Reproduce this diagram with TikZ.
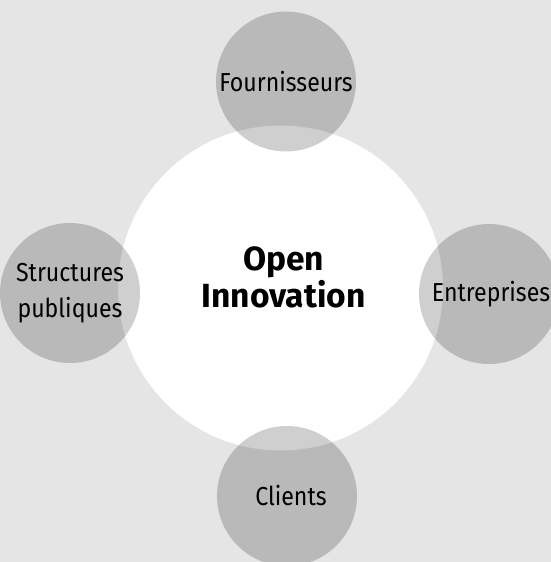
\documentclass[tikz,border=0pt]{standalone}
\usepackage{fontspec}
\setmainfont{Fira Sans}
\newfontfamily\labfont[FakeStretch=0.89]{Fira Sans}
\newfontfamily\titfont[FakeStretch=1.0]{Fira Sans}
\definecolor{bggray}{HTML}{E5E5E5}
\begin{document}
\begin{tikzpicture}[x=1pt,y=-1pt,
  satellite/.style={circle, inner sep=0pt, minimum size=140pt, fill=black, fill opacity=0.19,
    text opacity=1, text=black, font=\labfont\fontsize{26}{36}\selectfont, align=center},
  hub/.style={circle, inner sep=0pt, minimum size=325pt, fill=white}]
\fill[bggray] (0,0) rectangle (551,562);
\useasboundingbox (0,0) rectangle (551,562);
\node[hub] (hub) at (280.5,288) {};
\node[font=\titfont\bfseries\fontsize{33.5}{37}\selectfont, align=center] (oi) at (283.5,277) {Open\\Innovation};
\node[satellite] (four) at (286,81.5) {Fournisseurs};
\node[satellite] (struct) at (70,293) {Structures\\publiques};
\node[satellite] (entr) at (489,294) {\hspace*{4pt}Entreprises};
\node[satellite] (cli) at (287,496) {\hspace*{8pt}Clients};
\end{tikzpicture}
\end{document}
